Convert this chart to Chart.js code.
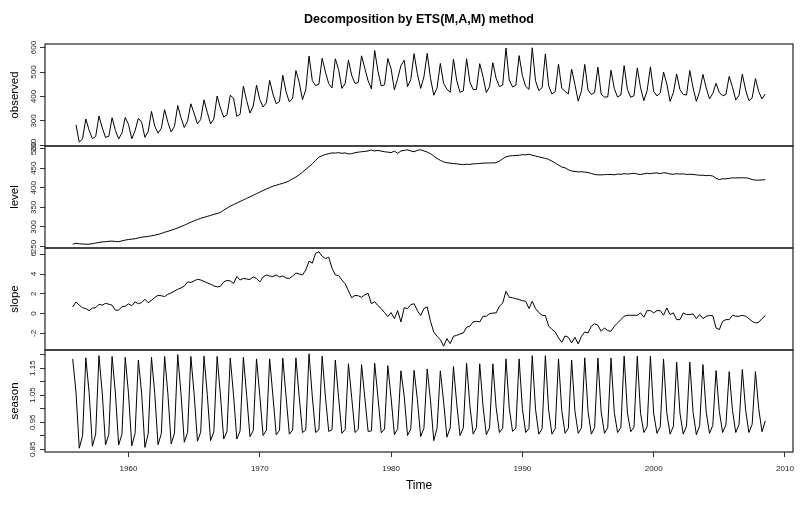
<!DOCTYPE html>
<html>
<head>
<meta charset="utf-8">
<script src="https://cdn.jsdelivr.net/npm/chart.js@4/dist/chart.umd.min.js"></script>
<style>
  body { margin: 0; background: #fff; }
  canvas { display: block; }
</style>
</head>
<body>
<canvas id="etsChart" width="810" height="507"></canvas>
<script>
// quarterly series; the states carry the initial state one quarter before the data
const obsStart = 1956
const stateStart = 1955.75
const freq = 4

const observed = [
  284, 213, 227, 308, 262, 228, 236, 320, 272, 233, 237, 313, 261, 227, 250, 314,
  286, 227, 260, 311, 295, 233, 257, 339, 279, 250, 270, 346, 294, 255, 278, 363,
  313, 273, 300, 370, 331, 288, 306, 386, 335, 288, 308, 402, 353, 316, 325, 405,
  393, 319, 327, 442, 383, 332, 361, 446, 387, 357, 374, 466, 410, 370, 379, 487,
  419, 378, 393, 506, 458, 387, 427, 565, 465, 445, 450, 556, 500, 452, 435, 554,
  510, 433, 453, 548, 486, 453, 457, 566, 515, 464, 431, 588, 503, 443, 448, 555,
  513, 427, 473, 526, 548, 440, 469, 575, 493, 433, 480, 576, 475, 405, 435, 535,
  453, 430, 417, 552, 464, 417, 423, 554, 459, 428, 429, 534, 481, 416, 440, 538,
  474, 440, 447, 598, 467, 439, 446, 567, 485, 441, 429, 599, 464, 424, 436, 574,
  443, 410, 420, 532, 433, 421, 410, 512, 449, 381, 423, 531, 426, 408, 416, 520,
  409, 398, 398, 507, 432, 398, 406, 526, 428, 397, 403, 517, 435, 383, 424, 521,
  421, 402, 414, 500, 451, 380, 416, 492, 428, 408, 406, 506, 435, 380, 421, 490,
  435, 390, 412, 454, 416, 403, 408, 482, 438, 386, 405, 491, 427, 383, 394, 473,
  420, 390, 410
]

const level = [
  256, 258.5, 257, 256.5, 256,
  256, 257.5, 259, 260.5, 262, 262.5, 263.5, 264, 263, 262.5, 264.5, 266.5,
  268, 269, 270, 272, 274, 275, 276, 277.5, 279, 281, 283.5, 286.5,
  289, 291.5, 294.5, 297.5, 301, 304.5, 308.5, 312, 316, 319, 322, 324.5,
  327, 329.5, 332, 334.5, 337, 343, 348, 353, 357, 361, 365, 369,
  373, 377, 381, 385, 389, 393, 397, 400.5, 404, 406.5, 409, 411.5,
  414, 418, 423, 427.5, 433, 440, 447, 454, 461, 470, 478, 482,
  485, 487, 489, 488.5, 489.7, 488, 489, 486.5, 487, 489.5, 491, 492,
  493, 494, 496.5, 494, 495.5, 493.5, 492, 491, 489.7, 493.5, 488, 494,
  495.5, 497, 494, 492, 495.5, 497, 494, 491, 487, 481, 475, 470,
  466, 464, 463, 462, 461, 460, 459, 460, 459.7, 461, 461.5, 462,
  463, 463, 463.5, 463.5, 464, 468, 474, 479, 481, 482, 482.5, 483,
  484.5, 484, 485.5, 483, 481, 479, 477, 475, 472.5, 468, 463, 458,
  453, 451, 446, 443, 441.6, 440.5, 441, 440, 439, 436.5, 434, 433,
  433, 433.5, 434, 434, 433, 435, 434.5, 436, 435, 436, 437, 435,
  434, 435.5, 437, 436, 437.5, 438, 436, 438.5, 437.5, 435, 434.5, 436,
  435, 435.5, 434, 434.5, 434, 433, 432, 432, 431, 431.5, 430, 424,
  421, 423, 423, 424, 425.5, 425, 425.5, 425.5, 425.5, 424, 421, 419.5,
  419.5, 420, 420.7
]

const slope = [
  0.67, 1.18, 0.85, 0.6, 0.5, 0.3, 0.55, 0.6, 0.94, 0.85, 1.04, 0.95,
  0.85, 0.35, 0.34, 0.7, 0.75, 0.98, 0.8, 1.18, 1.0, 1.11, 1.45, 1.1,
  1.35, 1.62, 1.85, 1.8, 1.72, 1.95, 2.1, 2.28, 2.45, 2.6, 2.79, 3.2,
  3.15, 3.3, 3.47, 3.4, 3.25, 3.1, 2.97, 2.8, 2.7, 2.75, 3.2, 3.35,
  3.3, 3.05, 3.75, 3.4, 3.55, 3.5, 3.45, 3.7, 3.55, 3.2, 3.7, 3.9,
  3.8, 3.75, 3.9, 3.7, 3.8, 3.6, 3.55, 3.8, 4.1, 4.0, 3.9, 4.4,
  5.3, 5.1, 6.1, 6.25, 5.8, 5.55, 5.7, 4.6, 3.9, 3.85, 3.4, 3.0,
  2.3, 1.6, 1.85, 1.8, 1.65, 1.9, 2.05, 1.0, 1.2, 0.8, 0.5, 0.1,
  -0.3, 0.1, -0.5, 0.3, -0.85, 0.6, 0.5, 0.9, 1.0, 0.3, -0.2, 0.51,
  0.68, -0.78, -1.86, -2.3, -2.63, -3.3, -2.53, -3.04, -2.3, -2.2, -2.06, -1.96,
  -1.38, -1.28, -0.84, -0.78, -0.84, -0.27, -0.27, 0.0, 0.05, 0.07, 0.74, 1.08,
  2.26, 1.65, 1.6, 1.5, 1.42, 1.3, 1.25, 0.51, 1.25, 0.51, 0.1, -0.17,
  -0.2, -1.25, -1.6, -1.86, -2.46, -2.9, -2.26, -2.4, -2.97, -2.4, -3.07, -2.3,
  -1.86, -1.96, -1.28, -1.02, -1.18, -1.79, -1.45, -1.72, -1.79, -1.28, -0.95, -0.6,
  -0.27, -0.17, -0.17, -0.17, -0.17, 0.07, -0.37, 0.3, 0.3, 0.07, 0.3, 0.3,
  -0.17, 0.57, -0.1, 0.07, -0.61, -0.61, 0.07, -0.1, -0.1, -0.03, -0.51, -0.1,
  -0.51, -0.27, -0.2, -0.2, -1.45, -1.62, -0.78, -0.61, -0.61, -0.17, -0.27, -0.27,
  -0.17, -0.27, -0.51, -0.78, -0.95, -0.88, -0.51, -0.2
]

const season = [
  1.184,
  1.061, 0.854, 0.900, 1.188, 1.060, 0.861, 0.906, 1.196, 1.058, 0.866, 0.905, 1.193,
  1.058, 0.866, 0.906, 1.190, 1.056, 0.863, 0.908, 1.180, 1.057, 0.857, 0.907, 1.190,
  1.056, 0.867, 0.908, 1.193, 1.055, 0.870, 0.910, 1.200, 1.054, 0.876, 0.912, 1.193,
  1.053, 0.880, 0.913, 1.194, 1.052, 0.882, 0.915, 1.193, 1.051, 0.888, 0.916, 1.187,
  1.050, 0.888, 0.918, 1.190, 1.049, 0.897, 0.919, 1.184, 1.048, 0.901, 0.920, 1.184,
  1.047, 0.904, 0.920, 1.187, 1.046, 0.906, 0.921, 1.188, 1.045, 0.912, 0.921, 1.203,
  1.044, 0.912, 0.922, 1.194, 1.043, 0.916, 0.922, 1.180, 1.042, 0.909, 0.923, 1.166,
  1.041, 0.912, 0.924, 1.163, 1.040, 0.916, 0.918, 1.168, 1.040, 0.911, 0.925, 1.159,
  1.040, 0.904, 0.926, 1.140, 1.045, 0.901, 0.926, 1.142, 1.035, 0.897, 0.928, 1.147,
  1.030, 0.882, 0.928, 1.140, 1.025, 0.895, 0.929, 1.156, 1.018, 0.901, 0.929, 1.168,
  1.012, 0.906, 0.930, 1.166, 1.010, 0.904, 0.930, 1.166, 1.005, 0.912, 0.928, 1.184,
  1.002, 0.916, 0.928, 1.184, 1.000, 0.912, 0.926, 1.196, 0.998, 0.906, 0.926, 1.196,
  0.995, 0.906, 0.927, 1.184, 0.993, 0.909, 0.928, 1.180, 0.992, 0.909, 0.929, 1.188,
  0.990, 0.906, 0.930, 1.187, 0.988, 0.909, 0.930, 1.187, 0.986, 0.912, 0.931, 1.194,
  0.984, 0.915, 0.932, 1.194, 0.982, 0.912, 0.933, 1.194, 0.982, 0.909, 0.934, 1.184,
  0.983, 0.906, 0.935, 1.172, 0.984, 0.906, 0.936, 1.172, 0.986, 0.904, 0.937, 1.163,
  0.988, 0.909, 0.938, 1.141, 0.990, 0.912, 0.940, 1.137, 0.994, 0.912, 0.941, 1.145,
  0.996, 0.912, 0.942, 1.137, 1.000, 0.915, 0.955
]

const xTicks = [1960, 1970, 1980, 1990, 2000, 2010]
const obsTicks = [200, 300, 400, 500, 600]
const levelTicks = [250, 300, 350, 400, 450, 500]
const slopeTicks = [-2, 0, 2, 4, 6]
const seasonTicks = [0.85, 0.90, 0.95, 1.00, 1.05, 1.10, 1.15, 1.20]
const seasonLabels = ['0.85', '0.95', '1.05', '1.15']

Chart.defaults.font.family = '"Liberation Sans", Arial, Helvetica, sans-serif'
Chart.defaults.color = '#222'

function toPoints(values, start) {
  return values.map((v, i) => ({ x: start + i / freq, y: v }))
}

// R stretches every axis 4% past the data
function padded(values) {
  let lo = Math.min(...values)
  let hi = Math.max(...values)
  let pad = (hi - lo) * 0.04
  return { min: lo - pad, max: hi + pad }
}

const xRange = padded([stateStart, obsStart + (observed.length - 1) / freq])

function panelAxis(title, values, ticks, labelFn, pad) {
  let r = padded(values)
  return {
    type: 'linear',
    position: 'left',
    stack: 'ets',
    stackWeight: 1,
    min: r.min,
    max: r.max,
    afterBuildTicks: s => { s.ticks = ticks.map(v => ({ value: v })) },
    afterFit: s => { s.width = 45 },
    grid: { drawOnChartArea: false, drawTicks: true, tickLength: 5, color: '#333' },
    border: { display: false },
    ticks: {
      autoSkip: false, minRotation: 90, maxRotation: 90, crossAlign: 'center',
      padding: pad, color: '#222', font: { size: 8 }, callback: labelFn
    },
    title: { display: true, text: title, color: '#000', font: { size: 11.5 }, padding: { top: 8, bottom: 0 } }
  }
}

// draw the box round each panel
const panelBoxes = {
  id: 'panelBoxes',
  afterDraw(chart) {
    let ctx = chart.ctx
    let area = chart.chartArea
    ctx.save()
    ctx.strokeStyle = '#222'
    ctx.lineWidth = 1.2
    ;['yObs', 'yLevel', 'ySlope', 'ySeason'].forEach(id => {
      let s = chart.scales[id]
      ctx.strokeRect(area.left, s.top, area.right - area.left, s.bottom - s.top)
    })
    ctx.restore()
  }
}

function lineSet(values, start, axis) {
  return {
    data: toPoints(values, start),
    yAxisID: axis,
    borderColor: '#000',
    borderWidth: 1,
    pointRadius: 0,
    fill: false,
    tension: 0
  }
}

new Chart(document.getElementById('etsChart'), {
  type: 'line',
  data: {
    datasets: [
      lineSet(observed, obsStart, 'yObs'),
      lineSet(level, stateStart, 'yLevel'),
      lineSet(slope, stateStart, 'ySlope'),
      lineSet(season, stateStart, 'ySeason')
    ]
  },
  options: {
    responsive: false,
    animation: false,
    layout: { padding: { right: 17 } },
    plugins: {
      legend: { display: false },
      tooltip: { enabled: false },
      title: {
        display: true,
        fullSize: false,
        text: 'Decomposition by ETS(M,A,M) method',
        color: '#000',
        font: { size: 12.5, weight: 'bold' },
        padding: { top: 12.5, bottom: 16.5 }
      }
    },
    scales: {
      x: {
        type: 'linear',
        position: 'bottom',
        min: xRange.min,
        max: xRange.max,
        afterBuildTicks: s => { s.ticks = xTicks.map(v => ({ value: v })) },
        afterFit: s => { s.height = 55 },
        grid: { drawOnChartArea: false, tickLength: 5, color: '#333' },
        border: { display: false },
        ticks: { autoSkip: false, maxRotation: 0, padding: 7, color: '#222', font: { size: 8 }, callback: v => String(v) },
        title: { display: true, text: 'Time', color: '#000', font: { size: 12 }, padding: { top: 0, bottom: 14 } }
      },
      // stacked left axes are laid out bottom-up, so the bottom panel comes first
      ySeason: panelAxis('season', season, seasonTicks, v => {
        let s = v.toFixed(2)
        return seasonLabels.includes(s) ? s : ''
      }, -1),
      ySlope: panelAxis('slope', slope, slopeTicks, v => String(v), 3),
      yLevel: panelAxis('level', level, levelTicks, v => String(v), 0),
      yObs: panelAxis('observed', observed, obsTicks, v => String(v), 0)
    }
  },
  plugins: [panelBoxes]
})
</script>
</body>
</html>
